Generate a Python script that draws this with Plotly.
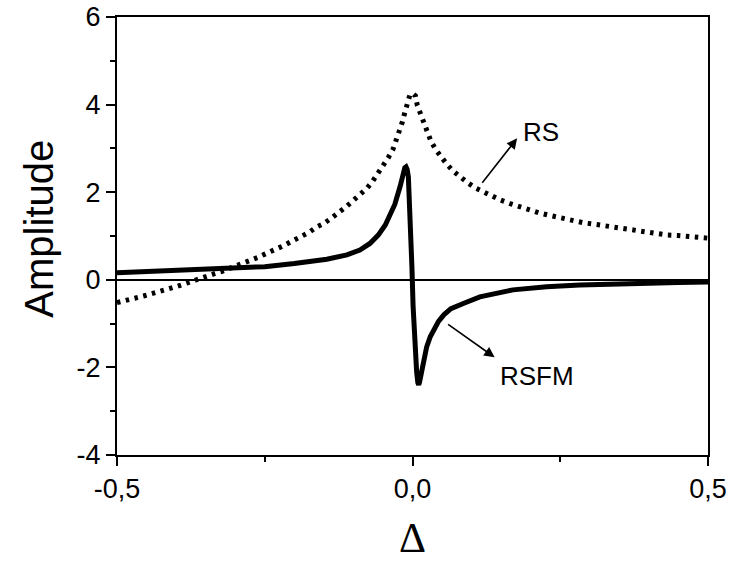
import plotly.graph_objects as go

# ---- data ----
rs_x = [-0.500, -0.486, -0.470, -0.455, -0.441, -0.426, -0.411, -0.396, -0.381, -0.366,
        -0.350, -0.335, -0.321, -0.305, -0.290, -0.275, -0.260, -0.2475, -0.232, -0.218,
        -0.203, -0.189, -0.174, -0.163, -0.152, -0.139, -0.125, -0.113, -0.102, -0.089,
        -0.077, -0.067, -0.058, -0.049, -0.041, -0.033, -0.027, -0.021, -0.017, -0.013,
        -0.009, -0.004, 0.000, 0.005, 0.008, 0.014, 0.019, 0.025, 0.031, 0.039,
        0.048, 0.058, 0.069, 0.080, 0.092, 0.106, 0.120, 0.134, 0.149, 0.165,
        0.180, 0.197, 0.214, 0.229, 0.245, 0.260, 0.275, 0.290, 0.307, 0.322,
        0.339, 0.355, 0.370, 0.386, 0.401, 0.417, 0.432, 0.449, 0.464, 0.480,
        0.496, 0.500]
rs_y = [-0.52, -0.46, -0.42, -0.37, -0.32, -0.26, -0.20, -0.14, -0.07, -0.01,
        0.06, 0.14, 0.20, 0.28, 0.37, 0.45, 0.52, 0.60, 0.68, 0.78,
        0.89, 0.98, 1.09, 1.20, 1.27, 1.39, 1.52, 1.66, 1.79, 1.94,
        2.09, 2.26, 2.43, 2.61, 2.79, 2.98, 3.19, 3.40, 3.61, 3.82,
        4.03, 4.24, 4.26, 4.20, 3.99, 3.78, 3.57, 3.37, 3.17, 2.98,
        2.80, 2.64, 2.48, 2.35, 2.23, 2.10, 2.00, 1.90, 1.82, 1.74,
        1.67, 1.59, 1.53, 1.48, 1.43, 1.38, 1.35, 1.30, 1.27, 1.24,
        1.19, 1.15, 1.12, 1.10, 1.08, 1.05, 1.02, 1.01, 0.99, 0.97,
        0.96, 0.95]

rsfm_x = [-0.500, -0.400, -0.300, -0.250, -0.200, -0.145, -0.111, -0.089, -0.072, -0.058,
          -0.046, -0.038, -0.030, -0.021, -0.016, -0.013, -0.011, -0.009, -0.007, -0.005,
          -0.003, -0.001, 0.001, 0.003, 0.005, 0.007, 0.009, 0.0105, 0.012, 0.0155,
          0.020, 0.024, 0.030, 0.035, 0.044, 0.053, 0.065, 0.086, 0.114, 0.170,
          0.227, 0.283, 0.362, 0.450, 0.500]
rsfm_y = [0.16, 0.21, 0.27, 0.30, 0.37, 0.47, 0.57, 0.68, 0.83, 1.02,
          1.25, 1.48, 1.72, 2.13, 2.45, 2.56, 2.58, 2.52, 2.35, 1.80,
          1.00, 0.30, -0.60, -1.20, -1.70, -2.10, -2.35, -2.40, -2.33, -2.06,
          -1.75, -1.53, -1.30, -1.15, -0.95, -0.80, -0.66, -0.54, -0.39, -0.23,
          -0.16, -0.12, -0.08, -0.06, -0.05]

x_tickvals = [-0.5, 0.0, 0.5]
x_ticktext = ["-0,5", "0,0", "0,5"]
x_minor = [-0.25, 0.25]
y_tickvals = [-4, -2, 0, 2, 4, 6]
y_ticktext = ["-4", "-2", "0", "2", "4", "6"]
y_minor = [-3, -1, 1, 3, 5]

FONT = "Liberation Sans, Arial, sans-serif"

W, H = 731, 561
PL, PR, PT, PB = 116.5, 708.5, 17, 455  # plot area in page pixels


def px_paper_x(px):
    return (px - PL) / (PR - PL)


def px_paper_y(py):
    return (PB - py) / (PB - PT)


fig = go.Figure()
fig.add_trace(go.Scatter(x=rs_x, y=rs_y, mode="lines", name="RS",
                         line=dict(color="black", width=5, dash="3.5px,5.5px")))
fig.add_trace(go.Scatter(x=rsfm_x, y=rsfm_y, mode="lines", name="RSFM",
                         line=dict(color="black", width=5)))

axis_common = dict(showline=True, linecolor="black", linewidth=2, mirror=True,
                   ticks="outside", ticklen=9, tickwidth=1.5, tickcolor="black",
                   showgrid=False, automargin=False,
                   tickfont=dict(family=FONT, size=27, color="black"))

fig.update_xaxes(range=[-0.5, 0.5], tickmode="array", tickvals=x_tickvals, ticktext=x_ticktext,
                 zeroline=False,
                 minor=dict(tickmode="array", tickvals=x_minor, ticks="outside", ticklen=5,
                            tickwidth=1.5, tickcolor="black", showgrid=False),
                 **axis_common)
fig.update_yaxes(range=[-4, 6], tickmode="array", tickvals=y_tickvals, ticktext=y_ticktext,
                 zeroline=True, zerolinecolor="black", zerolinewidth=1.5,
                 minor=dict(tickmode="array", tickvals=y_minor, ticks="outside", ticklen=5,
                            tickwidth=1.5, tickcolor="black", showgrid=False),
                 **axis_common)

annots = [
    dict(x=0.177, y=3.23, ax=-36, ay=46, text="", showarrow=True, arrowhead=2,
         arrowsize=1.3, arrowwidth=1.6, arrowcolor="black"),
    dict(x=0.139, y=-1.77, ax=-48, ay=-34, text="", showarrow=True, arrowhead=2,
         arrowsize=1.3, arrowwidth=1.6, arrowcolor="black"),
    dict(x=0.217, y=3.37, text="RS", showarrow=False, xanchor="center", yanchor="middle",
         font=dict(family=FONT, size=26, color="black")),
    dict(x=0.211, y=-2.20, text="RSFM", showarrow=False, xanchor="center", yanchor="middle",
         font=dict(family=FONT, size=26, color="black")),
    dict(xref="paper", yref="paper", x=px_paper_x(38), y=px_paper_y(229),
         xanchor="center", yanchor="middle",
         text="Amplitude", textangle=-90, showarrow=False,
         font=dict(family=FONT, size=40, color="black")),
    dict(xref="paper", yref="paper", x=px_paper_x(413), y=px_paper_y(538),
         xanchor="center", yanchor="middle",
         text="Δ", showarrow=False,
         font=dict(family="Liberation Serif, Times New Roman, serif", size=42, color="black")),
]
fig.update_layout(width=W, height=H, showlegend=False,
                  margin=dict(l=PL, r=W - PR, t=PT, b=H - PB),
                  plot_bgcolor="white", paper_bgcolor="white",
                  annotations=annots)

fig.write_html("out.html", config={"displayModeBar": False},
               post_script="document.body.style.margin='0px';document.body.style.overflow='hidden';")
